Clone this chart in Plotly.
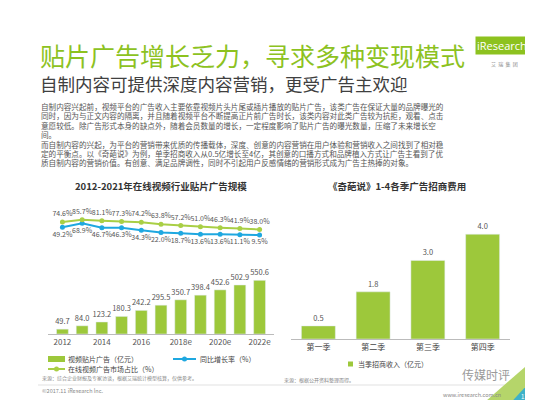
import plotly.graph_objects as go

years = ["2012","2013","2014","2015","2016","2017","2018e","2019e","2020e","2021e","2022e"]
ad_scale = [49.7,84.0,123.2,180.3,242.2,295.5,350.7,398.4,452.6,502.9,550.6]
share = [74.6,85.7,81.1,77.3,74.2,63.8,57.2,51.0,46.3,41.9,38.0]
growth = [49.2,68.9,46.7,46.3,34.3,22.0,18.7,13.6,13.6,11.1,9.5]
tick_years = ["2012","2014","2016","2018e","2020e","2022e"]

seasons = ["第一季","第二季","第三季","第四季"]
income = [0.5,1.8,3.0,4.0]

body = [
"自制内容兴起前，视频平台的广告收入主要依靠视频片头片尾或插片播放的贴片广告，该类广告在保证大量的品牌曝光的",
"同时，因为与正文内容的隔离，并且随着视频平台不断提高正片前广告时长，该类内容对此类广告较为抗拒，观看、点击",
"意愿较低。除广告形式本身的缺点外，随着会员数量的增长，一定程度影响了贴片广告的曝光数量，压缩了未来增长空",
"间。",
"而自制内容的兴起，为平台的营销带来优质的传播载体，深度、创意的内容营销在用户体验和营销收入之间找到了相对稳",
"定的平衡点。以《奇葩说》为例，单季招商收入从0.5亿增长至4亿，其创意的口播方式和品牌植入方式让广告主看到了优",
"质自制内容的营销价值。有创意、满足品牌调性，同时不引起用户反感情绪的营销形式成为广告主热捧的对象。",
]

GREEN = "#8DC21F"
BAR = "#9DC83B"
LGREEN = "#A9CF45"
BLUE = "#1FA8E0"
FONT = "Noto Sans CJK SC"

def px_x(v):
    return v / 533.0

def py(v):
    return 1 - v / 400.0

fig = go.Figure()
fig.add_trace(go.Bar(x=years, y=ad_scale, marker_color=BAR, width=0.6,
    text=[f"{v:.1f}" for v in ad_scale], textposition="outside", cliponaxis=False, constraintext="none",
    textfont=dict(size=7.5, color="#555"), showlegend=False, xaxis="x", yaxis="y"))
fig.add_trace(go.Scatter(x=years, y=growth, mode="lines+markers+text", line=dict(color=BLUE, width=2),
    marker=dict(size=5), text=[f"{v:.1f}%" for v in growth], textposition="bottom center",
    textfont=dict(size=7, color="#555"), cliponaxis=False, showlegend=False, xaxis="x", yaxis="y2"))
fig.add_trace(go.Scatter(x=years, y=share, mode="lines+markers+text", line=dict(color=LGREEN, width=2),
    marker=dict(size=5), text=[f"{v:.1f}%" for v in share], textposition="top center",
    textfont=dict(size=7, color="#555"), cliponaxis=False, showlegend=False, xaxis="x", yaxis="y2"))
fig.add_trace(go.Bar(x=seasons, y=income, marker_color=BAR, width=0.62,
    text=[f"{v:.1f}" for v in income], textposition="outside", cliponaxis=False, constraintext="none",
    textfont=dict(size=7.5, color="#555"), showlegend=False, xaxis="x2", yaxis="y3"))

def txt(t, x, y, size, color="#555", anchor="left", family=FONT, **kw):
    return dict(text=t, x=px_x(x), y=py(y), xref="paper", yref="paper", xanchor=anchor,
                yanchor="middle", showarrow=False, font=dict(size=size, color=color, family=family), **kw)

ann = [
    txt("贴片广告增长乏力，寻求多种变现模式", 30, 47, 25, GREEN),
    txt("自制内容可提供深度内容营销，更受广告主欢迎", 30, 76, 17.5, "#404040"),
]
for i, line in enumerate(body):
    ann.append(txt(line, 31, 98.3 + i * 9.45, 7.6))
ann += [
    txt("<b>2012-2021年在线视频行业贴片广告规模</b>", 153, 178, 9.5, "#333", "center"),
    txt("<b>《奇葩说》1-4各季广告招商费用</b>", 389, 178, 9.5, "#333", "center"),
    txt("iResearch", 494, 38, 11, "white", "center", "Open Sans", bgcolor=GREEN),
    txt("艾  瑞  集  团", 496, 56, 5, "#888", "center"),
    txt("视频贴片广告（亿元）", 58, 351, 7, "#444"),
    txt("同比增长率（%）", 190, 351, 7, "#444"),
    txt("在线视频广告市场占比（%）", 58, 361, 7, "#444"),
    txt("当季招商收入（亿元）", 348, 356, 7, "#444"),
    txt("来源：综合企业财报及专家访谈，根据艾瑞统计模型核算，仅供参考。", 32, 370, 5, "#888"),
    txt("来源：根据公开资料整理而得。", 274, 372, 5, "#888"),
    txt("©2017.11 iResearch Inc.", 32, 383, 5.5, "#888"),
    txt("www.iresearch.com.cn", 495, 387, 5.5, "#888", "right"),
    txt("传媒时评", 478, 366, 12, "#9a9a9a", "center"),
    txt("11", 516, 388, 6, "white", "center"),
]

def rect(x0, y0, x1, y1, color):
    return dict(type="rect", xref="paper", yref="paper", x0=px_x(x0), x1=px_x(x1), y0=py(y1), y1=py(y0),
                fillcolor=color, line=dict(width=0))

def lline(x0, x1, y, color):
    return dict(type="line", xref="paper", yref="paper", x0=px_x(x0), x1=px_x(x1), y0=py(y), y1=py(y),
                line=dict(color=color, width=2))

def dot(x, y, color):
    return dict(type="circle", xref="paper", yref="paper", x0=px_x(x - 2.5), x1=px_x(x + 2.5),
                y0=py(y + 2.5), y1=py(y - 2.5), fillcolor=color, line=dict(width=0))

shapes = [
    rect(40, 348, 57, 354, BAR),
    lline(165, 188, 351, BLUE), dot(176.5, 351, BLUE),
    lline(40, 57, 361, LGREEN), dot(48.5, 361, LGREEN),
    rect(340, 353.5, 345, 358.5, BAR),
    dict(type="line", xref="paper", yref="paper", x0=px_x(30), x1=1, y0=py(377), y1=py(377),
         line=dict(color="#ccc", width=0.6)),
    dict(type="path", xref="paper", yref="paper", path=f"M 1 {py(345)} L 1 0 L {px_x(470)} 0 Z",
         fillcolor="#B5D56A", line=dict(width=0)),
    dict(type="path", xref="paper", yref="paper", path=f"M 1 {py(362)} L 1 0 L {px_x(498)} 0 Z",
         fillcolor="#1FA8E0", line=dict(width=0), opacity=0.8),
    dict(type="path", xref="paper", yref="paper", path=f"M 1 {py(378)} L 1 0 L {px_x(512)} 0 Z",
         fillcolor="#8DC21F", line=dict(width=0)),
]

fig.update_layout(
    width=533, height=400, margin=dict(l=0, r=0, t=0, b=0),
    paper_bgcolor="white", plot_bgcolor="white",
    font=dict(family=FONT, color="#555"), showlegend=False,
    annotations=ann, shapes=shapes,
    xaxis=dict(domain=[px_x(40), px_x(266)], anchor="y", tickvals=tick_years, tickfont=dict(size=8, color="#555"),
               showline=True, linecolor="#bbb", ticks="", showgrid=False),
    yaxis=dict(domain=[py(326), py(248)], range=[0, 800], visible=False, showgrid=False),
    yaxis2=dict(domain=[py(245), py(200)], range=[-80, 145], visible=False, showgrid=False, anchor="x"),
    xaxis2=dict(domain=[px_x(283), px_x(502)], anchor="y3", tickfont=dict(size=8, color="#444"),
                showline=True, linecolor="#bbb", ticks="", showgrid=False),
    yaxis3=dict(domain=[py(331), py(200)], range=[0, 5], visible=False, showgrid=False, anchor="x2"),
)

fig.write_html("out.html")
